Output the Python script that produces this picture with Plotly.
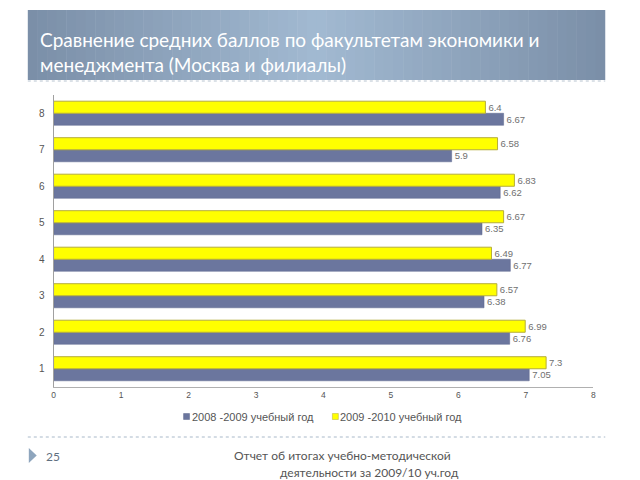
import plotly.graph_objects as go

categories = ["1", "2", "3", "4", "5", "6", "7", "8"]
series_2008 = [7.05, 6.76, 6.38, 6.77, 6.35, 6.62, 5.9, 6.67]
series_2009 = [7.3, 6.99, 6.57, 6.49, 6.67, 6.83, 6.58, 6.4]
series_names = ["2008 -2009 учебный год", "2009 -2010 учебный год"]
x_ticks = [0, 1, 2, 3, 4, 5, 6, 7, 8]

W, H = 640, 480
def px(x):
    return x / W
def py(y):
    return 1 - y / H

col_2008 = "#6b769e"
col_2009 = "#ffff00"

fig = go.Figure()
fig.add_trace(go.Bar(
    y=categories, x=series_2008, orientation="h", name=series_names[0],
    marker=dict(color=col_2008, line=dict(color="#5d678c", width=0.5)),
    text=[str(v) for v in series_2008], textposition="outside",
    textfont=dict(family="Liberation Sans", size=9.5, color="#707070"),
    cliponaxis=False, showlegend=False,
))
fig.add_trace(go.Bar(
    y=categories, x=series_2009, orientation="h", name=series_names[1],
    marker=dict(color=col_2009, line=dict(color="#b5ad3a", width=1)),
    text=[str(v) for v in series_2009], textposition="outside",
    textfont=dict(family="Liberation Sans", size=9.5, color="#707070"),
    cliponaxis=False, showlegend=False,
))

shapes = []
# gradient title box
x0, x1, y0, y1 = 26, 608, 10, 80
n = 60
left = (0x7b, 0x8f, 0xa8)
mid = (0xa2, 0xba, 0xd2)
for i in range(n):
    t = (i + 0.5) / n
    f = 1 - abs(t - 0.5) * 2
    c = tuple(int(left[k] + (mid[k] - left[k]) * f) for k in range(3))
    xa = x0 + (x1 - x0) * i / n
    xb = x0 + (x1 - x0) * (i + 1) / n + 0.5
    shapes.append(dict(type="rect", xref="paper", yref="paper",
                       x0=px(xa), x1=px(min(xb, x1)), y0=py(y1), y1=py(y0),
                       fillcolor="rgb(%d,%d,%d)" % c, line=dict(width=0), layer="below"))
shapes.append(dict(type="line", xref="paper", yref="paper", x0=px(26), x1=px(608),
                   y0=py(81), y1=py(81), line=dict(color="#b8c4d0", width=1, dash="dot")))
shapes.append(dict(type="line", xref="paper", yref="paper", x0=px(26), x1=px(608),
                   y0=py(437), y1=py(437), line=dict(color="#a9b9c9", width=1, dash="dot")))
shapes.append(dict(type="path", xref="paper", yref="paper",
                   path="M %f %f L %f %f L %f %f Z" % (px(27), py(448), px(35), py(455.5), px(27), py(463)),
                   fillcolor="#8ea5bd", line=dict(width=0)))

# custom legend markers
legend_items = [(183, col_2008, "#5d678c"), (333, col_2009, "#b5ad3a")]
for lx, fc, lc in legend_items:
    shapes.append(dict(type="rect", xref="paper", yref="paper",
                       x0=px(lx), x1=px(lx + 6), y0=py(419.5), y1=py(413.5),
                       fillcolor=fc, line=dict(color=lc, width=0.5)))

annotations = [
    dict(text="Сравнение средних баллов по факультетам экономики и<br>менеджмента (Москва и филиалы)",
         xref="paper", yref="paper", x=px(36), y=py(52), xanchor="left", yanchor="middle",
         align="left", showarrow=False,
         font=dict(family="Lato", size=19, color="white")),
    dict(text="25", xref="paper", yref="paper", x=px(42), y=py(456), xanchor="left", yanchor="middle",
         showarrow=False, font=dict(family="Lato", size=12, color="#5f6f80")),
    dict(text="Отчет об итогах учебно-методической", xref="paper", yref="paper",
         x=px(232), y=py(455), xanchor="left", yanchor="middle",
         showarrow=False, font=dict(family="Lato", size=12, color="#555555")),
    dict(text="деятельности за 2009/10 уч.год", xref="paper", yref="paper",
         x=px(278), y=py(472), xanchor="left", yanchor="middle",
         showarrow=False, font=dict(family="Lato", size=12, color="#555555")),
]
for (lx, _, _), name in zip(legend_items, series_names):
    annotations.append(dict(text=name, xref="paper", yref="paper", x=px(lx + 6), y=py(416.5),
                            xanchor="left", yanchor="middle", showarrow=False,
                            font=dict(family="Liberation Sans", size=11, color="#555555")))

fig.update_layout(
    width=W, height=H, margin=dict(l=0, r=0, t=0, b=0),
    paper_bgcolor="white", plot_bgcolor="white",
    barmode="group", bargap=0.34, bargroupgap=0,
    shapes=shapes, annotations=annotations,
    xaxis=dict(domain=[px(52), px(596)], range=[0, 8], tickvals=x_ticks,
               showgrid=False, zeroline=False, showline=True, linecolor="#b0b0b0",
               tickfont=dict(family="Liberation Sans", size=8.5, color="#555555"),
               ticks="", anchor="y"),
    yaxis=dict(domain=[py(387), py(95)], range=[-0.5, 7.5], showgrid=False,
               showline=True, linecolor="#a0a0a0", ticks="",
               tickfont=dict(family="Liberation Sans", size=10, color="#555555"),
               ticklabelstandoff=6, anchor="x"),
    showlegend=False,
)

fig.write_html("out.html")
